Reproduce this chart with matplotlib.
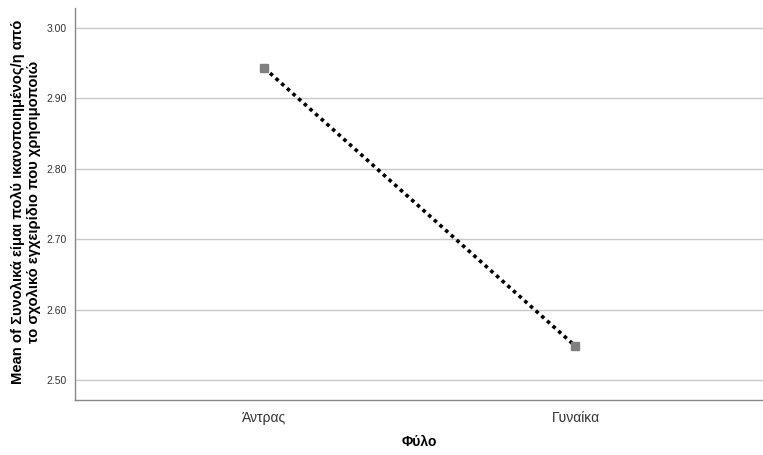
import matplotlib
matplotlib.use('Agg')
import matplotlib.pyplot as plt

plt.rcParams['font.family'] = ['Liberation Sans', 'DejaVu Sans']

# data
categories = ['Άντρας', 'Γυναίκα']
means = [2.943, 2.548]
yticks = [2.50, 2.60, 2.70, 2.80, 2.90, 3.00]

fig = plt.figure(figsize=(7.63, 4.55), dpi=100)
ax = fig.add_axes([75 / 763, 1 - 400 / 455, 1 - 75 / 763, 392 / 455])

x = list(range(len(categories)))
ax.plot(x, means, color='black', linestyle=(0, (1, 1.1)), linewidth=2.6, zorder=3)
ax.plot(x, means, linestyle='none', marker='s', markersize=6,
        markerfacecolor='#7f7f7f', markeredgecolor='#7f7f7f', zorder=4)

ax.set_xlim(-0.609, 1.603)
ax.set_ylim(2.4716, 3.0284)
ax.set_xticks(x)
ax.set_xticklabels(categories, fontsize=10, color='#333333')
ax.set_yticks(yticks)
ax.set_yticklabels(['%.2f' % v for v in yticks], fontsize=7.5, color='#333333')
ax.tick_params(axis='both', length=0)
ax.tick_params(axis='x', pad=8)
ax.tick_params(axis='y', pad=6)

ax.yaxis.grid(True, color='#c8c8c8', linewidth=1)
ax.set_axisbelow(True)
for s in ['top', 'right']:
    ax.spines[s].set_visible(False)
for s in ['left', 'bottom']:
    ax.spines[s].set_color('#888888')
    ax.spines[s].set_linewidth(1)

ax.set_xlabel('Φύλο', fontsize=10, fontweight='bold')
ax.xaxis.set_label_coords(0.501, -0.107)
ax.xaxis.label.set_va('center')
ax.set_ylabel('Mean of Συνολικά είμαι πολύ ικανοποιημένος/η από\nτο σχολικό εγχειρίδιο που χρησιμοποιώ',
              fontsize=10.6, fontweight='bold', linespacing=1.2)
ax.yaxis.set_label_coords(-0.0712, 0.505)
ax.yaxis.label.set_va('center')

fig.savefig('out.png', dpi=100)
